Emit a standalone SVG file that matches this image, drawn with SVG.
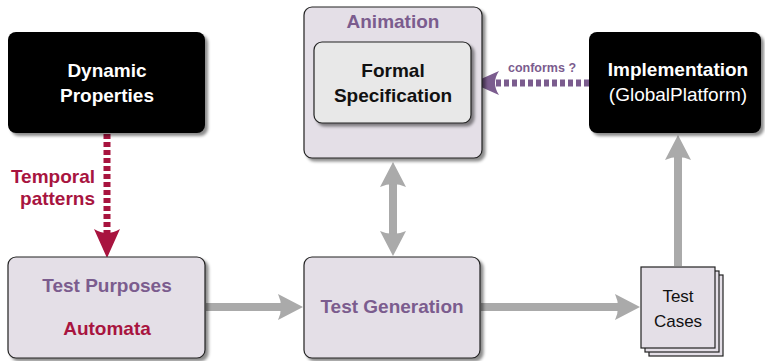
<svg xmlns="http://www.w3.org/2000/svg" width="765" height="361" viewBox="0 0 765 361">
<defs>
<filter id="sh" x="-10%" y="-10%" width="130%" height="130%">
<feDropShadow dx="3" dy="3" stdDeviation="1.5" flood-color="#000" flood-opacity="0.45"/>
</filter>
</defs>
<style>
text{font-family:"Liberation Sans",Arial,sans-serif;text-anchor:middle;font-size:19px}
.b{font-weight:bold}
.blk{fill:#000}
.lav{fill:#e4dfe7;stroke:#222;stroke-width:1.2}
.spec{fill:#e8e8e8;stroke:#222;stroke-width:1.2}
.w{fill:#fff}
.pu{fill:#7b5c8e}
.cr{fill:#a8143f}
.dk{fill:#111}
.gl{stroke:#aaa;stroke-width:8;fill:none}
.ga{fill:#aaa}
</style>
<g id="connectors">
<line class="gl" x1="393" y1="180" x2="393" y2="235"/>
<path class="ga" d="M393,162 L406,187 Q393,181 380,187 Z"/>
<path class="ga" d="M393,256 L406,231 Q393,237 380,231 Z"/>
<line class="gl" x1="206" y1="307" x2="285" y2="307"/>
<path class="ga" d="M303,307 L278,294 Q284,307 278,320 Z"/>
<line class="gl" x1="481" y1="307" x2="622" y2="307"/>
<path class="ga" d="M640,307 L615,294 Q621,307 615,320 Z"/>
<line class="gl" x1="678" y1="266" x2="678" y2="155"/>
<path class="ga" d="M678,135 L691,160 Q678,154 665,160 Z"/>
<line x1="107" y1="134" x2="107" y2="234" stroke="#a8143f" stroke-width="7" stroke-dasharray="5 3"/>
<path fill="#a8143f" d="M107,258 L94,229 Q107,237 120,229 Z"/>
<line x1="589" y1="83" x2="493" y2="83" stroke="#7b5c8e" stroke-width="7" stroke-dasharray="5 3"/>
<path fill="#7b5c8e" d="M472,83 L499,71 Q491,83 499,95 Z"/>
<text x="542" y="72" class="b pu" style="font-size:12.5px">conforms ?</text>
<text x="95" y="183" class="b cr" style="text-anchor:end">Temporal</text>
<text x="95" y="205" class="b cr" style="text-anchor:end">patterns</text>
</g>
<g id="dynamic">
<rect x="8" y="32" width="197" height="101" rx="8" class="blk" filter="url(#sh)"/>
<text x="107" y="77" class="b w">Dynamic</text>
<text x="107" y="102" class="b w">Properties</text>
</g>
<g id="animation">
<rect x="304" y="7" width="178" height="151" rx="8" class="lav" filter="url(#sh)"/>
<text x="393" y="28" class="b pu">Animation</text>
</g>
<g id="formal">
<rect x="314" y="42" width="157" height="81" rx="8" class="spec" filter="url(#sh)"/>
<text x="393" y="77" class="b dk">Formal</text>
<text x="393" y="102" class="b dk">Specification</text>
</g>
<g id="implementation">
<rect x="589" y="32" width="172" height="101" rx="8" class="blk" filter="url(#sh)"/>
<text x="678" y="76" class="b w">Implementation</text>
<text x="678" y="101" class="w">(GlobalPlatform)</text>
</g>
<g id="testpurposes">
<rect x="8" y="257" width="197" height="101" rx="8" class="lav" filter="url(#sh)"/>
<text x="107" y="292" class="b pu">Test Purposes</text>
<text x="107" y="335" class="b cr">Automata</text>
</g>
<g id="testgeneration">
<rect x="304" y="257" width="176" height="101" rx="8" class="lav" filter="url(#sh)"/>
<text x="392" y="313" class="b pu">Test Generation</text>
</g>
<g id="testcases">
<rect x="649" y="275" width="74" height="81" class="lav" stroke-width="1"/>
<rect x="645" y="271" width="74" height="81" class="lav" stroke-width="1"/>
<rect x="641" y="267" width="74" height="81" class="lav" stroke-width="1"/>
<text x="678" y="302" class="dk" style="font-size:17px">Test</text>
<text x="678" y="327" class="dk" style="font-size:17px">Cases</text>
</g>
</svg>
